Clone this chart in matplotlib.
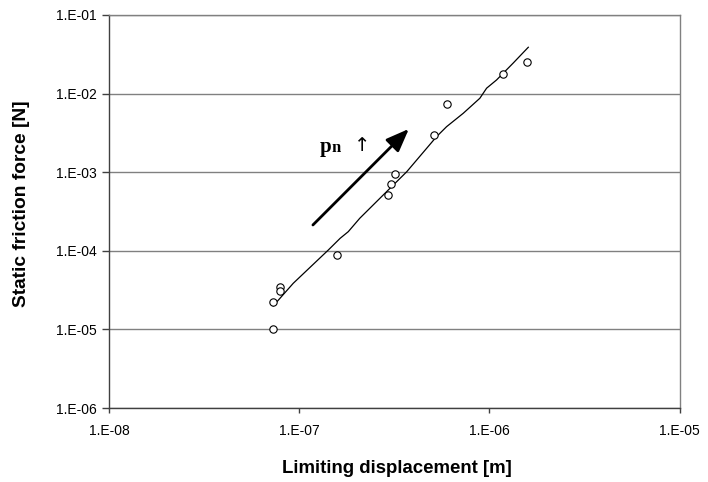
import matplotlib
matplotlib.use("Agg")
import matplotlib.pyplot as plt
from matplotlib.ticker import FixedLocator, NullLocator

# Measured static friction force vs. limiting displacement
disp_meas = [7.27e-8, 7.27e-8, 7.92e-8, 7.92e-8, 1.58e-7, 2.94e-7, 3.03e-7,
             3.18e-7, 5.12e-7, 5.97e-7, 1.18e-6, 1.57e-6]
force_meas = [1.0e-5, 2.2e-5, 3.45e-5, 3.1e-5, 8.8e-5, 5.1e-4, 7.1e-4,
              9.5e-4, 2.95e-3, 7.4e-3, 1.76e-2, 2.5e-2]

# Computed curve
disp_calc = [7.30e-8, 9.30e-8, 1.42e-7, 1.64e-7, 1.81e-7, 2.08e-7, 3.00e-7,
             3.67e-7, 5.27e-7, 5.95e-7, 7.28e-7, 8.90e-7, 9.66e-7, 1.09e-6,
             1.33e-6, 1.60e-6]
force_calc = [1.99e-5, 3.86e-5, 1.02e-4, 1.44e-4, 1.75e-4, 2.59e-4, 6.24e-4,
              1.01e-3, 2.83e-3, 3.79e-3, 5.61e-3, 8.71e-3, 1.17e-2, 1.49e-2,
              2.43e-2, 3.88e-2]

# Direction of increasing normal pressure
arrow_start = (1.18e-7, 2.13e-4)
arrow_end = (3.77e-7, 3.55e-3)

x_ticks = [1e-8, 1e-7, 1e-6, 1e-5]
x_labels = ["1.E-08", "1.E-07", "1.E-06", "1.E-05"]
y_ticks = [1e-6, 1e-5, 1e-4, 1e-3, 1e-2, 1e-1]
y_labels = ["1.E-06", "1.E-05", "1.E-04", "1.E-03", "1.E-02", "1.E-01"]

plt.rcParams['font.family'] = ['Liberation Sans', 'DejaVu Sans']

fig = plt.figure(figsize=(7.08, 4.82), dpi=100)
ax = fig.add_axes([0.154, 0.1535, 0.806, 0.8155])

ax.set_xscale('log')
ax.set_yscale('log')
ax.set_xlim(1e-8, 1e-5)
ax.set_ylim(1e-6, 1e-1)

for y in y_ticks:
    ax.axhline(y, color='#808080', lw=1.0, zorder=1)

ax.plot(disp_calc, force_calc, color='black', lw=0.9, zorder=3)
ax.plot(disp_meas, force_meas, linestyle='none', marker='o', markersize=5.3,
        markerfacecolor='white', markeredgecolor='black', markeredgewidth=0.8,
        zorder=4)

ax.annotate('', xy=arrow_end, xytext=arrow_start,
            arrowprops=dict(arrowstyle='-|>,head_length=1.4,head_width=0.55',
                            color='black', lw=2.0, shrinkA=0, shrinkB=0),
            zorder=5)

# p_n label with upward arrow
serif = ['Liberation Serif', 'DejaVu Serif']
ax.text(0.370, 0.651, 'p', transform=ax.transAxes, fontsize=15,
        fontweight='bold', family=serif, ha='left', va='baseline')
ax.text(0.390, 0.651, 'n', transform=ax.transAxes, fontsize=12,
        fontweight='bold', family=serif, ha='left', va='baseline')
ax.text(0.4300, 0.655, '\u2191', transform=ax.transAxes, fontsize=14,
        family=['DejaVu Sans'], ha='left', va='baseline')

ax.xaxis.set_major_locator(FixedLocator(x_ticks))
ax.xaxis.set_minor_locator(NullLocator())
ax.yaxis.set_major_locator(FixedLocator(y_ticks))
ax.yaxis.set_minor_locator(NullLocator())
ax.set_xticklabels(x_labels)
ax.set_yticklabels(y_labels)
ax.tick_params(axis='y', direction='out', length=5, width=1,
               color='#404040', labelsize=10, labelcolor='black', pad=4)
ax.tick_params(axis='x', direction='out', length=3.5, width=1,
               color='#404040', labelsize=10, labelcolor='black', pad=8)

for side in ('left', 'bottom'):
    ax.spines[side].set_color('#404040')
    ax.spines[side].set_linewidth(1.0)
for side in ('top', 'right'):
    ax.spines[side].set_color('#808080')
    ax.spines[side].set_linewidth(1.0)

ax.set_xlabel('Limiting displacement [m]', fontsize=13.4, fontweight='bold',
              va='center')
ax.xaxis.set_label_coords(0.505, -0.155)
ax.set_ylabel('Static friction force [N]', fontsize=13.8, fontweight='bold',
              va='center')
ax.yaxis.set_label_coords(-0.154, 0.519)

fig.savefig('out.png', dpi=100)
